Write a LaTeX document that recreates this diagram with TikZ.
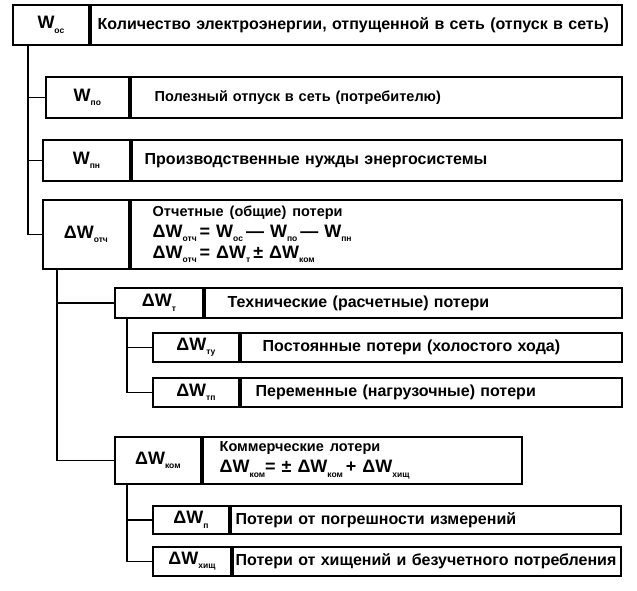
\documentclass[tikz,border=0pt]{standalone}
\usepackage{fontspec}
\setmainfont{Liberation Sans}
\usetikzlibrary{positioning}
\newcommand{\ix}[1]{\raisebox{-0.45ex}{\fontsize{8.5}{9}\selectfont#1}}

\begin{document}
\begin{tikzpicture}[x=1pt, y=-1pt,
  lab/.style={draw, line width=1.8pt, inner sep=0pt, anchor=north west,
    font=\fontsize{18}{20}\selectfont\bfseries},
  desc/.style={draw, line width=1.8pt, anchor=north west, align=left,
    inner ysep=0pt, font=\fontsize{16}{21}\selectfont\bfseries},
  formula/.style={font=\fontsize{18}{21}\selectfont\bfseries},
  link/.style={line width=1.4pt}]
  \useasboundingbox (0,0) rectangle (637,590);
  % level 0
  \node[lab, minimum width=76pt, minimum height=40pt] (woc) at (12,4) {W\ix{ос}};
  \node[desc, minimum height=40pt, text width=517pt, inner xsep=7pt] (woct) at (woc.north east)
    {Количество электроэнергии, отпущенной в сеть (отпуск в сеть)};
  % level 1
  \node[lab, minimum width=83pt, minimum height=41pt] (wpo) at (45,76) {W\ix{по}};
  \node[desc, minimum height=41pt, text width=443pt, inner xsep=24pt,
    font=\fontsize{14.5}{18}\selectfont\bfseries] (wpot) at (wpo.north east)
    {Полезный отпуск в сеть (потребителю)};
  \node[lab, minimum width=87pt, minimum height=41pt] (wpn) at (42,139) {W\ix{пн}};
  \node[desc, minimum height=41pt, text width=464pt, inner xsep=13pt] (wpnt) at (wpn.north east)
    {Производственные нужды энергосистемы};
  \node[lab, minimum width=86pt, minimum height=69pt] (wotch) at (42,199) {ΔW\ix{отч}};
  \node[desc, formula, minimum height=69pt, text width=447pt, inner xsep=22pt] (wotcht) at (wotch.north east)
    {{\fontsize{14.5}{21}\selectfont Отчетные (общие) потери}\\
     ΔW\ix{отч}\,= W\ix{ос}\,— W\ix{по}\,— W\ix{пн}\\
     ΔW\ix{отч}\,= ΔW\ix{т}\,± ΔW\ix{ком}};
  % level 2
  \node[lab, minimum width=88pt, minimum height=30pt] (wt) at (114,287) {ΔW\ix{т}};
  \node[desc, minimum height=30pt, text width=371pt, inner xsep=23pt] (wtt) at (wt.north east)
    {Технические (расчетные) потери};
  \node[lab, minimum width=86pt, minimum height=47pt] (wkom) at (114,436) {ΔW\ix{ком}};
  \node[desc, formula, minimum height=47pt, text width=285pt, inner xsep=17pt] (wkomt) at (wkom.north east)
    {{\fontsize{14.5}{21}\selectfont Коммерческие лотери}\\
     ΔW\ix{ком}= ± ΔW\ix{ком}\,+ ΔW\ix{хищ}};
  % level 3
  \node[lab, minimum width=86pt, minimum height=29pt] (wtu) at (152,332) {ΔW\ix{ту}};
  \node[desc, minimum height=29pt, text width=337pt, inner xsep=22pt] (wtut) at (wtu.north east)
    {Постоянные потери (холостого хода)};
  \node[lab, minimum width=86pt, minimum height=29pt] (wtp) at (152,377) {ΔW\ix{тп}};
  \node[desc, minimum height=29pt, text width=351pt, inner xsep=15pt] (wtpt) at (wtp.north east)
    {Переменные (нагрузочные) потери};
  \node[lab, minimum width=76pt, minimum height=28pt] (wp) at (152,505) {ΔW\ix{п}};
  \node[desc, minimum height=28pt, text width=380pt, inner xsep=5pt] (wpt) at (wp.north east)
    {Потери от погрешности измерений};
  \node[lab, minimum width=78pt, minimum height=29pt] (wkh) at (152,546) {ΔW\ix{хищ}};
  \node[desc, minimum height=29pt, text width=382pt, inner xsep=3pt] (wkht) at (wkh.north east)
    {Потери от хищений и безучетного потребления};
  % tree lines
  \draw[link] ([xshift=16pt]woc.south west) |- (wpo.west);
  \draw[link] ([xshift=16pt]woc.south west) |- (wpn.west);
  \draw[link] ([xshift=16pt]woc.south west) |- (wotch.west);
  \draw[link] ([xshift=15pt]wotch.south west) |- (wt.west);
  \draw[link] ([xshift=15pt]wotch.south west) |- (wkom.west);
  \draw[link] ([xshift=13pt]wt.south west) |- (wtu.west);
  \draw[link] ([xshift=13pt]wt.south west) |- (wtp.west);
  \draw[link] ([xshift=13pt]wkom.south west) |- (wp.west);
  \draw[link] ([xshift=13pt]wkom.south west) |- (wkh.west);
\end{tikzpicture}
\end{document}
